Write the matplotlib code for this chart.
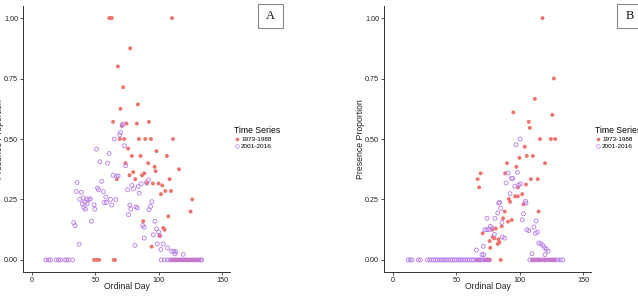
import matplotlib
matplotlib.use("Agg")
import matplotlib.pyplot as plt
from matplotlib.lines import Line2D
from matplotlib.patches import Rectangle

plt.rcParams['font.family'] = ['Liberation Sans', 'DejaVu Sans']

RED = '#F0736B'
PURPLE = '#B77BEF'
series_names = ['1973-1988', '2001-2016']

# ---------------- Panel A ----------------
a_red_day = [61, 62, 63, 110.5, 77.5, 67.8, 72, 69.9, 83.6, 64, 74.6, 70.9, 82.8, 92.3,
             69.3, 72.8, 84.4, 89.4, 93.9, 111.3, 75.9, 98.3, 78.8, 85.7, 106.5,
             73.8, 91.7, 96.8, 116, 97.6, 79.9, 77, 88.6, 86.8, 67, 81.5, 108.6,
             90.7, 95.4, 99.9, 102.8, 105.2, 109.7, 101.8, 126.5, 125.2, 107.6,
             87.8, 103.6, 104.7, 100.7, 94.4]
a_red_val = [1.0, 1.0, 1.0, 1.0, 0.875, 0.80, 0.714, 0.625, 0.643, 0.571, 0.564, 0.554, 0.564, 0.571,
             0.5, 0.5, 0.5, 0.5, 0.5, 0.5, 0.46, 0.45, 0.43, 0.43, 0.43,
             0.40, 0.40, 0.385, 0.375, 0.367, 0.363, 0.35, 0.358, 0.35, 0.334, 0.334, 0.334,
             0.316, 0.316, 0.316, 0.308, 0.285, 0.285, 0.272, 0.25, 0.20, 0.18,
             0.16, 0.132, 0.125, 0.10, 0.055]
a_red_zero_days = [49, 51, 53, 64.5, 65.5, 110, 111, 112, 113, 114, 115, 116, 117, 118, 119,
                   120, 121, 122, 123, 124, 125, 126, 127, 128, 129, 130, 131, 132]

a_pur_day = [37.2, 32.9, 34, 35.6, 35, 39, 37.7, 40.3, 41.7, 43.5, 45, 46, 40.9, 42.2, 43.5,
             39.8, 46.9, 49, 49.6, 50.9, 51.7, 52.5, 53.5, 55.1, 56.4, 57, 58.3, 58.8,
             59.6, 60.9, 62, 63, 64, 64.9, 66.2, 66.7, 68, 69.3, 69.9, 71.2, 72, 73, 74,
             75.4, 76.2, 77.2, 78, 78.8, 80.1, 81.2, 82, 83.1, 83.9, 84.6, 86.2, 87.3,
             88.6, 88.6, 90.4, 92, 92.3, 93.6, 94.6, 95.7, 97, 98.3, 98.9, 99.9, 101,
             101.8, 103.6, 107, 110.2, 112, 112.8, 113.6, 119.4]
a_pur_val = [0.065, 0.154, 0.142, 0.32, 0.283, 0.28, 0.25, 0.256, 0.238, 0.252, 0.25, 0.252,
             0.216, 0.21, 0.232, 0.232, 0.16, 0.228, 0.21, 0.458, 0.297, 0.29, 0.406, 0.325,
             0.282, 0.237, 0.26, 0.238, 0.40, 0.44, 0.25, 0.227, 0.35, 0.5, 0.25, 0.345, 0.348,
             0.517, 0.527, 0.558, 0.562, 0.472, 0.39, 0.29, 0.187, 0.227, 0.21, 0.308, 0.294,
             0.06, 0.219, 0.215, 0.304, 0.276, 0.315, 0.142, 0.135, 0.09, 0.32, 0.331, 0.208,
             0.221, 0.241, 0.104, 0.16, 0.128, 0.066, 0.116, 0.10, 0.043, 0.066, 0.05, 0.036,
             0.036, 0.025, 0.033, 0.023]
a_pur_zero_days = [11, 13, 14.5, 19, 21, 22.5, 26, 27.5, 29, 32, 102, 104.5, 107, 109, 111, 113,
                   115, 117, 119, 121, 123, 125, 127, 129, 131, 133, 134]

# ---------------- Panel B ----------------
b_red_day = [118, 127, 112, 125.7, 95, 107.2, 108, 116, 124.6, 128, 104, 105.6, 110.4, 99.8,
             120, 90, 97.4, 88.5, 69.2, 66.8, 108.8, 114.3, 105, 68, 98.6, 102, 96.4, 98.5,
             91.4, 92.4, 103, 114.9, 88.2, 93.7, 90.8, 86.9, 85.8, 81, 78.4, 70.8, 78.7, 80,
             83.2, 76.3, 84, 82.7, 76.8]
b_red_val = [1.0, 0.75, 0.666, 0.60, 0.61, 0.571, 0.546, 0.5, 0.5, 0.5, 0.468, 0.43, 0.43, 0.422,
             0.40, 0.40, 0.385, 0.358, 0.358, 0.334, 0.334, 0.334, 0.312, 0.30, 0.30, 0.272,
             0.263, 0.263, 0.252, 0.24, 0.23, 0.2, 0.2, 0.165, 0.158, 0.172, 0.139, 0.13, 0.125,
             0.11, 0.095, 0.089, 0.085, 0.078, 0.073, 0.066, 0.05]
b_red_zero_days = [66, 68, 72, 73.5, 75, 76.5, 85, 110.5, 112.5, 114, 116, 119, 121, 123.5,
                   125.5, 127.5]

b_pur_day = [65.8, 70.2, 71.6, 71.3, 72.6, 74.2, 75.8, 74.2, 76.8, 78.2, 80, 80.5, 82.7, 83.4,
             84.2, 85, 86, 86.3, 88, 89.3, 90.8, 92.4, 93.5, 94.5, 96.1, 97.2, 98.2, 99.3,
             100.6, 100.3, 102, 103, 104.6, 105, 105.6, 107.2, 109.8, 111.2, 112.5, 114, 113,
             115.1, 116.7, 118.3, 119.6, 121, 119.9, 122.5]
b_pur_val = [0.041, 0.022, 0.022, 0.056, 0.125, 0.125, 0.125, 0.172, 0.139, 0.132, 0.105, 0.172,
             0.194, 0.235, 0.238, 0.213, 0.155, 0.095, 0.09, 0.318, 0.359, 0.274, 0.337, 0.337,
             0.305, 0.476, 0.362, 0.31, 0.315, 0.5, 0.166, 0.191, 0.242, 0.235, 0.125, 0.121,
             0.026, 0.136, 0.11, 0.115, 0.161, 0.07, 0.066, 0.06, 0.05, 0.045, 0.022, 0.036]
b_pur_zero_days = [12, 13.5, 15, 20, 21.5, 27, 29, 30.5, 32, 33.5, 35, 36.5, 38, 39.5, 41, 42.5,
                   44, 45.5, 47, 48.5, 50, 51.5, 53, 54.5, 56, 57.5, 59, 60.5, 62, 63.5, 65,
                   66.5, 68, 69.5, 71, 72.5, 74, 75.5, 108, 110, 112, 114, 116, 118, 120, 122,
                   124, 126, 128, 130, 132, 134]

x_ticks = [0, 50, 100, 150]
y_ticks = [0.0, 0.25, 0.5, 0.75, 1.0]
panel_labels = ['A', 'B']

W, H = 638, 296
fig = plt.figure(figsize=(W / 100, H / 100), dpi=100)

panels = [
    (23, a_red_day, a_red_val, a_red_zero_days, a_pur_day, a_pur_val, a_pur_zero_days),
    (384, b_red_day, b_red_val, b_red_zero_days, b_pur_day, b_pur_val, b_pur_zero_days),
]
box_x = [258, 617]

for i, (left_px, rd, rv, rz, pd_, pv, pz) in enumerate(panels):
    ax = fig.add_axes([left_px / W, 1 - 272 / H, 207 / W, 266 / H])
    red_x = list(rd) + list(rz)
    red_y = list(rv) + [0.0] * len(rz)
    pur_x = list(pd_) + list(pz)
    pur_y = list(pv) + [0.0] * len(pz)
    ax.scatter(red_x, red_y, s=8, color=RED, edgecolors='none', zorder=3)
    ax.scatter(pur_x, pur_y, s=8, facecolors='none', edgecolors=PURPLE, linewidths=0.6, zorder=4)
    ax.set_xlim(-7.1, 156.3)
    ax.set_ylim(-0.05, 1.05)
    ax.set_xticks(x_ticks)
    ax.set_yticks(y_ticks)
    ax.set_yticklabels([f'{v:.2f}' for v in y_ticks])
    for s in ['top', 'right']:
        ax.spines[s].set_visible(False)
    for s in ['left', 'bottom']:
        ax.spines[s].set_color('#333333')
        ax.spines[s].set_linewidth(0.7)
    ax.tick_params(length=2, width=0.6, color='#333333', labelsize=5.2, pad=1.5,
                   labelcolor='#222222')
    ax.set_xlabel('Ordinal Day', fontsize=6.2, color='#222222')
    ax.set_ylabel('Presence Proportion', fontsize=6.2, color='#222222')
    ax.xaxis.set_label_coords(0.5, -0.036)
    ax.yaxis.set_label_coords(-0.094, 0.5)

    handles = [Line2D([], [], marker='o', linestyle='none', markersize=2.6,
                      markerfacecolor=RED, markeredgecolor='none'),
               Line2D([], [], marker='o', linestyle='none', markersize=2.6,
                      markerfacecolor='none', markeredgecolor=PURPLE, markeredgewidth=0.5)]
    leg = ax.legend(handles, series_names, title='Time Series', loc='upper left',
                    bbox_to_anchor=(1.02, 0.55), frameon=False, fontsize=4.6,
                    title_fontsize=6.2, handlelength=0.8, handletextpad=0.3,
                    labelspacing=0.25, borderaxespad=0, borderpad=0)
    leg._legend_box.align = 'left'

    bx = box_x[i]
    rect = Rectangle((bx / W, 1 - 28 / H), 25 / W, 24 / H, transform=fig.transFigure,
                     facecolor='white', edgecolor='#888888', linewidth=0.8)
    fig.patches.append(rect)
    fig.text((bx + 12.5) / W, 1 - 16 / H, panel_labels[i], ha='center', va='center',
             fontsize=9, family='Liberation Serif', color='#111111')

fig.savefig('out.png', dpi=100)
